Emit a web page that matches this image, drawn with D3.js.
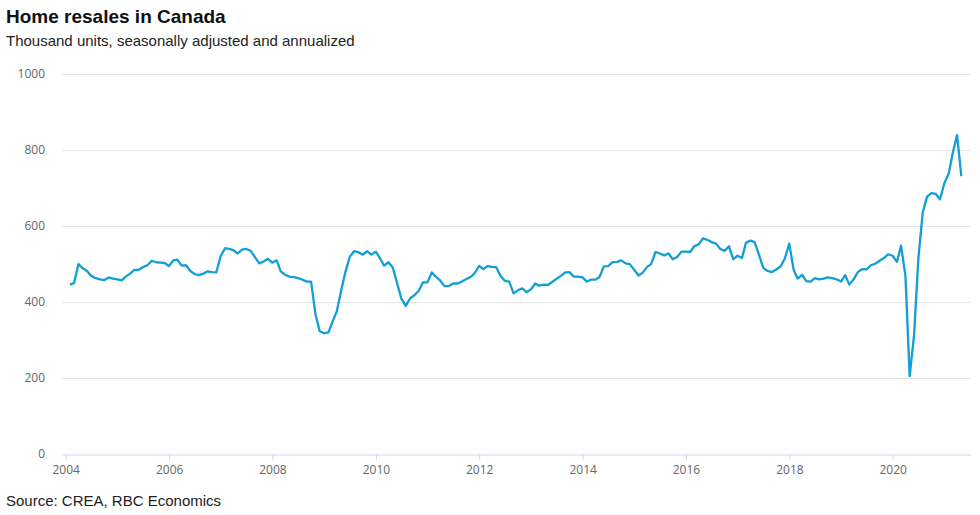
<!DOCTYPE html>
<html>
<head>
<meta charset="utf-8">
<script src="https://cdn.jsdelivr.net/npm/d3@7"></script>
<style>
body { margin: 0; background: #fff; }
</style>
</head>
<body>
<svg id="chart" width="980" height="515"></svg>
<script>
// monthly home resales, thousand units SAAR, Jan 2004 - Apr 2021
var startYear = 2004
var resales = [
    445, 449, 499, 488, 481, 468, 462, 459, 457, 464, 461, 459,
    456, 466, 474, 484, 484, 491, 496, 508, 504, 503, 502, 494,
    509, 511, 495, 496, 481, 473, 470, 474, 480, 478, 477, 520,
    541, 539, 536, 527, 537, 539, 534, 517, 501, 506, 513, 503,
    509, 480, 471, 466, 465, 462, 458, 453, 453, 367, 322, 317,
    319, 347, 375, 428, 479, 518, 533, 530, 524, 533, 524, 532,
    514, 495, 504, 490, 449, 408, 389, 409, 417, 429, 451, 451,
    477, 466, 456, 441, 441, 448, 448, 453, 459, 465, 475, 494,
    486, 494, 492, 491, 468, 455, 453, 422, 430, 435, 425, 432,
    448, 442, 445, 444, 452, 460, 468, 477, 478, 466, 466, 464,
    453, 458, 458, 465, 493, 494, 504, 505, 509, 501, 499, 484,
    469, 476, 491, 499, 531, 527, 522, 527, 512, 518, 532, 532,
    531, 546, 551, 567, 563, 557, 553, 539, 534, 546, 512, 521,
    515, 555, 561, 557, 524, 489, 481, 478, 485, 493, 514, 553,
    484, 461, 471, 454, 453, 462, 459, 461, 464, 462, 459, 453,
    470, 445, 459, 478, 486, 485, 496, 500, 508, 515, 525, 521,
    505, 548, 468, 204, 312, 512, 635, 677, 686, 684, 670, 712,
    738, 791, 839, 731
]
var yTicks = [0, 200, 400, 600, 800, 1000]
var xTickYears = [2004, 2006, 2008, 2010, 2012, 2014, 2016, 2018, 2020]

var svg = d3.select('#chart')

// month-end dates
var data = resales.map(function(d, i){
    return { date: new Date(startYear, i + 1, 0), value: d }
})

var plotLeft = 62, plotRight = 970.7, plotBottom = 453.5, plotTop = 74

var x = d3.scaleTime()
    .domain([new Date(2004, 0, 1), new Date(2020, 0, 1)])
    .range([65.7, 892.7])
x.domain([x.invert(plotLeft), x.invert(plotRight)]).range([plotLeft, plotRight])

var y = d3.scaleLinear().domain([0, 1000]).range([plotBottom, plotTop])

// gridlines
svg.append('g').selectAll('line')
    .data(yTicks.filter(function(d){ return d > 0 }))
    .enter().append('line')
    .attr('x1', plotLeft).attr('x2', plotRight)
    .attr('y1', function(d){ return Math.round(y(d)) + 0.5 })
    .attr('y2', function(d){ return Math.round(y(d)) + 0.5 })
    .style('stroke', '#e6e6e6')
    .style('stroke-width', 1)

// y labels
svg.append('g').selectAll('text')
    .data(yTicks)
    .enter().append('text')
    .attr('x', 45)
    .attr('y', function(d){ return y(d) + 4 })
    .attr('text-anchor', 'end')
    .style('font-family', '"Open Sans", sans-serif')
    .style('font-size', '12px')
    .style('fill', '#666')
    .text(function(d){ return d })

// x axis
var xAxis = d3.axisBottom(x)
    .tickValues(xTickYears.map(function(d){ return new Date(d, 0, 1) }))
    .tickFormat(d3.timeFormat('%Y'))
    .tickSize(6)
    .tickSizeOuter(0)
    .tickPadding(5)

var gx = svg.append('g')
    .attr('transform', 'translate(0,' + (Math.round(plotBottom) + 0.5) + ')')
    .call(xAxis)
gx.select('.domain').style('stroke', '#ccd6eb')
gx.selectAll('.tick line').style('stroke', '#ccd6eb')
gx.selectAll('.tick text')
    .style('font-family', '"Open Sans", sans-serif')
    .style('font-size', '12px')
    .style('fill', '#666')

// the line
var line = d3.line()
    .x(function(d){ return x(d.date) })
    .y(function(d){ return y(d.value) })

svg.append('path')
    .datum(data)
    .attr('d', line)
    .style('fill', 'none')
    .style('stroke', '#129ed6')
    .style('stroke-width', 2.3)
    .style('stroke-linejoin', 'round')

// titles
svg.append('text')
    .attr('x', 6).attr('y', 23)
    .style('font-family', '"Liberation Sans", Arial, sans-serif')
    .style('font-size', '19px')
    .style('font-weight', 'bold')
    .style('fill', '#111')
    .text('Home resales in Canada')

svg.append('text')
    .attr('x', 6).attr('y', 46)
    .style('font-family', '"Liberation Sans", Arial, sans-serif')
    .style('font-size', '15px')
    .style('fill', '#222')
    .text('Thousand units, seasonally adjusted and annualized')

svg.append('text')
    .attr('x', 6).attr('y', 506)
    .style('font-family', '"Liberation Sans", Arial, sans-serif')
    .style('font-size', '15px')
    .style('fill', '#222')
    .text('Source: CREA, RBC Economics')
</script>
</body>
</html>
